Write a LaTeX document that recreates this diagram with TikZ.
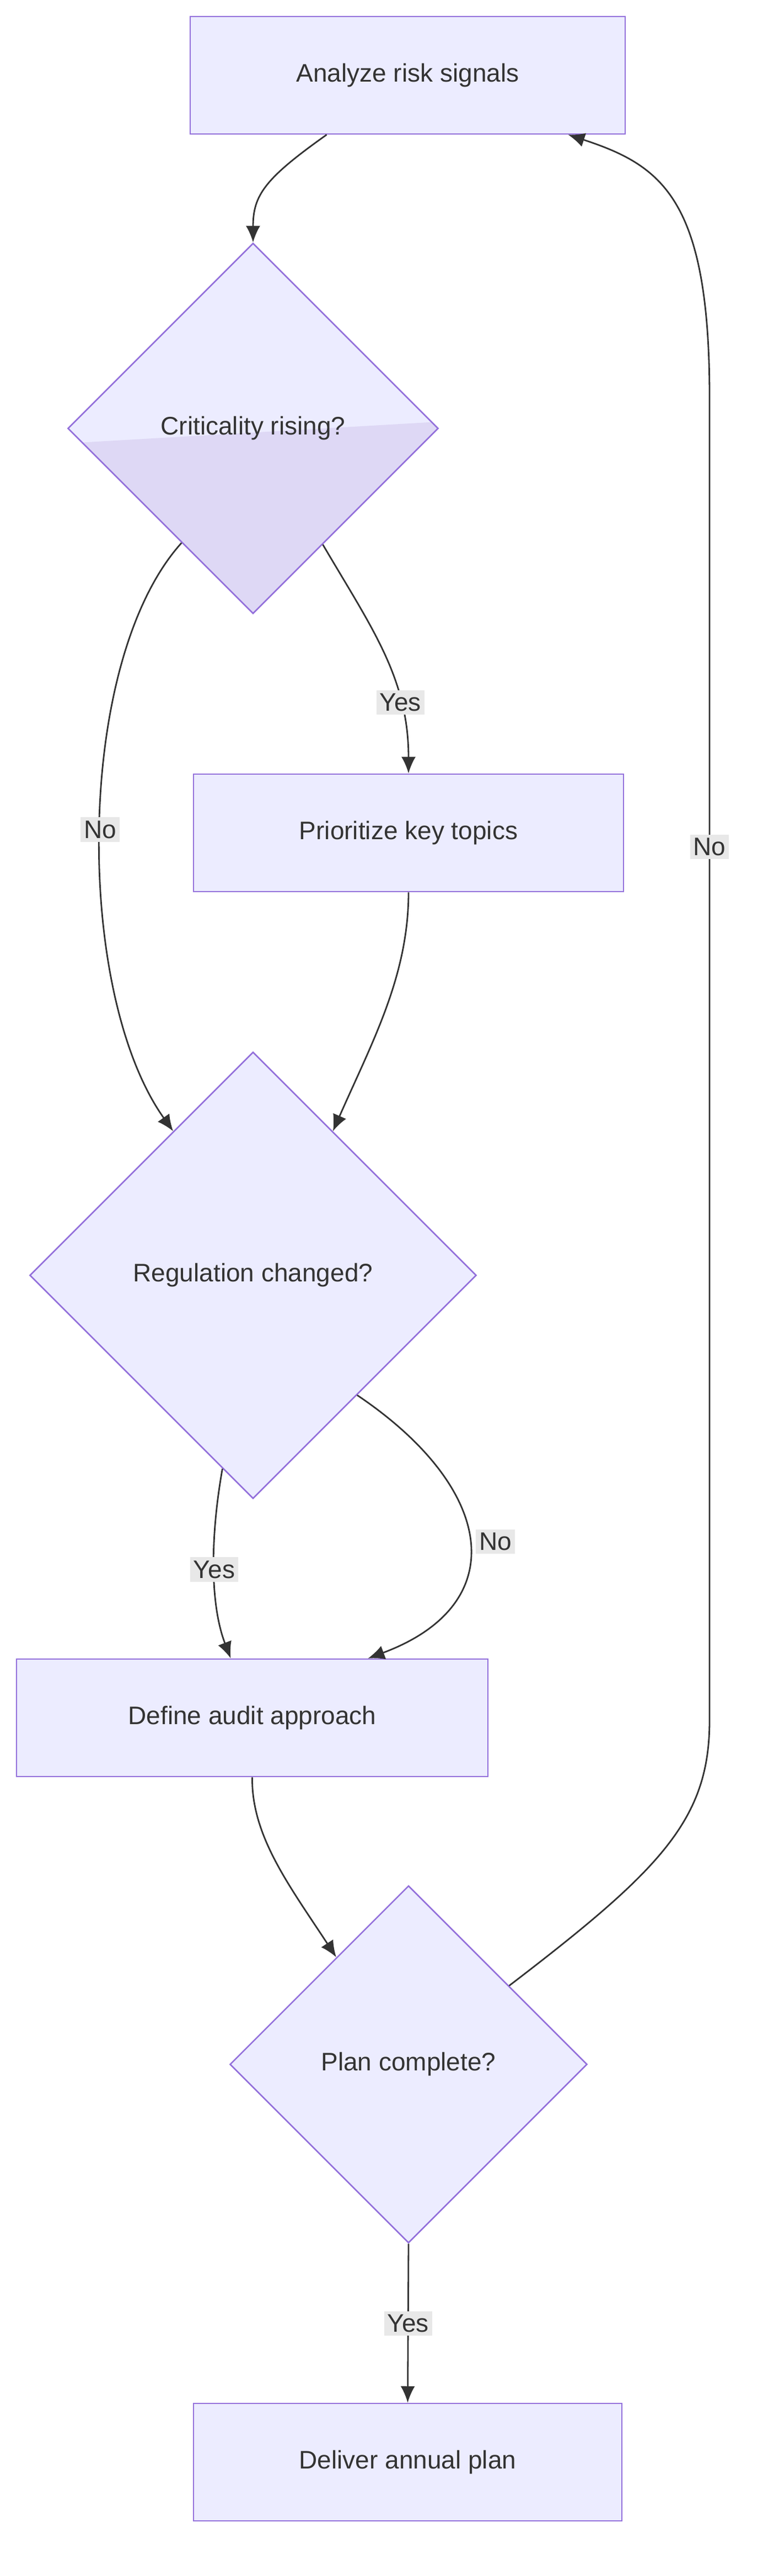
\documentclass[tikz,border=0pt]{standalone}
\usepackage{fontspec}
\setmainfont{Liberation Sans}
\usetikzlibrary{shapes.geometric,arrows.meta}
\definecolor{nf}{HTML}{ECECFF}
\definecolor{ns}{HTML}{9370DB}
\definecolor{sh}{HTML}{DED8F5}
\definecolor{lb}{HTML}{E8E8E8}
\definecolor{tx}{HTML}{333333}
\begin{document}
\begin{tikzpicture}[x=1.5pt,y=1.5pt,
  every node/.style={text=tx,font=\fontsize{23}{28}\selectfont},
  box/.style={draw=ns,fill=nf,line width=1.3pt,minimum height=71*1.5pt,inner sep=0pt},
  dia/.style={draw=ns,fill=nf,line width=1.3pt,diamond,aspect=1,inner sep=0pt},
  lab/.style={fill=lb,inner sep=3pt},
  arr/.style={draw=tx,line width=1.4pt,-{Latex[length=15pt,width=13pt]}}]
\useasboundingbox (0,0) rectangle (461.33,-1557.33);
\node[box,minimum width=263*1.5pt] (a) at (246.5,-45.5) {Analyze risk signals};
\node[dia,minimum size=224*1.5pt,path picture={\fill[sh] ([yshift=-13.5pt]path picture bounding box.west) -- ([yshift=6pt]path picture bounding box.east) -- (path picture bounding box.south east) -- (path picture bounding box.south west) -- cycle;}] (d1) at (153,-259) {Criticality rising?};
\node[box,minimum width=260*1.5pt] (p) at (247,-503.5) {Prioritize key topics};
\node[dia,minimum size=270*1.5pt] (d2) at (153,-771) {Regulation changed?};
\node[box,minimum width=285*1.5pt] (d) at (152.5,-1038.5) {Define audit approach};
\node[dia,minimum size=216*1.5pt] (pc) at (247,-1248) {Plan complete?};
\node[box,minimum width=259*1.5pt] (dl) at (246.5,-1488.5) {Deliver annual plan};

\draw[arr] ([xshift=-73.5pt]a.south) .. controls (160,-108) and (153,-118) .. (d1.north);
\draw[arr] (d1.-59) .. controls (225,-380) and (247,-410) .. node[lab,pos=0.72]{Yes} (p.north);
\draw[arr] (d1.-122) .. controls (45,-400) and (45,-600) .. node[lab,pos=0.5]{No} (d2.119);
\draw[arr] (p.south) .. controls (247,-590) and (225,-630) .. (d2.61);
\draw[arr] (d2.-99) .. controls (127,-930) and (127,-970) .. node[lab,pos=0.5]{Yes} ([xshift=-19.5pt]d.north);
\draw[arr] (d2.-49) .. controls (300,-900) and (310,-970) .. node[lab,pos=0.5,xshift=24pt]{No} ([xshift=105pt]d.north);
\draw[arr] (d.south) .. controls (152,-1110) and (175,-1140) .. (pc.124);
\draw[arr] (pc.38) .. controls (400,-1130) and (429,-1100) .. (429,-1040) -- node[lab,pos=0.66]{No} (429,-240) .. controls (429,-120) and (400,-100) .. ([xshift=145.5pt]a.south);
\draw[arr] (pc.south) -- node[lab,pos=0.5]{Yes} (dl.north);
\end{tikzpicture}
\end{document}
